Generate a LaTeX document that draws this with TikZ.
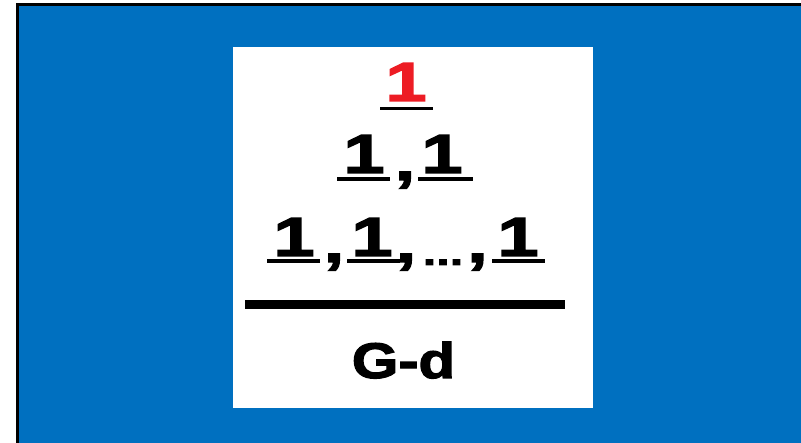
\documentclass[tikz,border=0pt]{standalone}
\usepackage{fontspec}
\newfontfamily\heavy{Liberation Sans}[FakeBold=2.5,FakeStretch=1.35]
\newfontfamily\heavyg{Liberation Sans}[FakeBold=2.5,FakeStretch=1.2]
\definecolor{bgblue}{RGB}{0,112,192}
\definecolor{onered}{RGB}{237,28,36}
\begin{document}
\begin{tikzpicture}[x=1pt,y=-1pt,
  dig/.style={font=\heavy\bfseries\fontsize{55}{55}\selectfont, inner sep=0pt, anchor=base},
  dots/.style={font=\heavy\bfseries\fontsize{36}{36}\selectfont, inner sep=0pt, anchor=base},
  gd/.style={font=\heavyg\bfseries\fontsize{50}{50}\selectfont, inner sep=0pt, anchor=base},
  ul/.style={line width=3.5pt, black},
  bar/.style={line width=9pt, black}]
\useasboundingbox (0,0) rectangle (801,443);
\fill[white] (0,0) rectangle (801,443);
\fill[black] (16,3) rectangle (801,443);
\fill[bgblue] (19,6) rectangle (801,443);
\fill[white] (233,47) rectangle (593,408);
% row 1
\node[dig, text=onered] (r1) at (406,101) {1};
\draw[ul] (380,108.5) -- (433,108.5);
% row 2
\node[dig] (r2a) at (364,173) {1};
\node[dig] (r2c) at (405,180) {,};
\node[dig] (r2b) at (442,173) {1};
\draw[ul] (337,179) -- (390,179);
\draw[ul] (418,179) -- (473,179);
% row 3
\node[dig] (r3a) at (294,256) {1};
\node[dig] (r3c1) at (334,262) {,};
\node[dig] (r3b) at (372,256) {1};
\node[dig] (r3c2) at (406,262) {,};
\node[dots] (r3d) at (443,265) {...};
\node[dig] (r3c3) at (477.5,262) {,};
\node[dig] (r3e) at (518,256) {1};
\draw[ul] (267,261) -- (320,261);
\draw[ul] (347,261) -- (400,261);
\draw[ul] (492,261) -- (545,261);
% fraction bar
\draw[bar] (245,304.5) -- (565,304.5);
% denominator
\node[gd] (den) at (403.5,378) {G-d};
\end{tikzpicture}
\end{document}
